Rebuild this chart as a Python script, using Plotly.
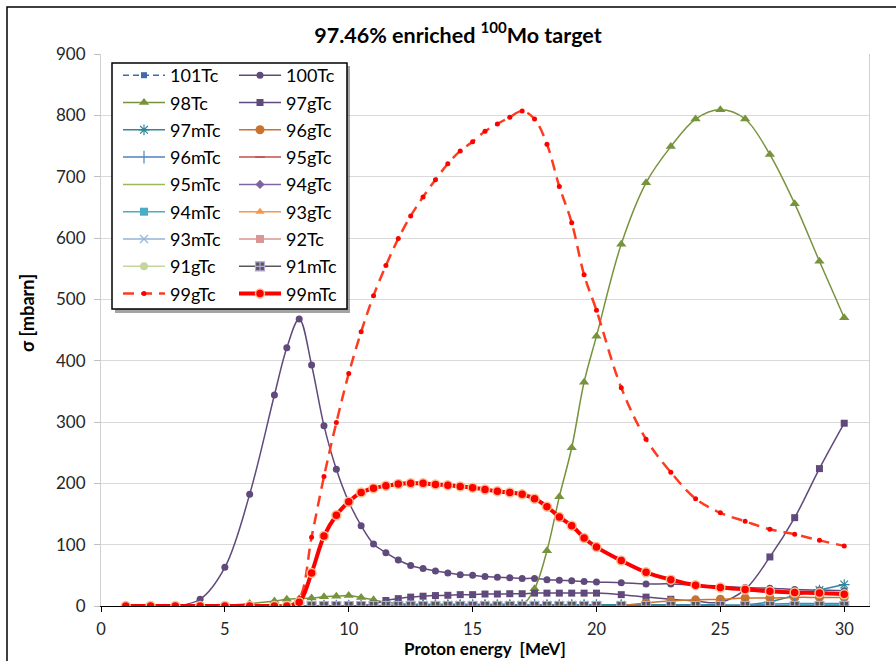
import plotly.graph_objects as go

# ---------------- data ----------------
E_FULL = [1, 2, 3, 4, 5, 6, 7, 7.5, 8, 8.5, 9, 9.5, 10, 10.5, 11, 11.5, 12, 12.5, 13, 13.5,
          14, 14.5, 15, 15.5, 16, 16.5, 17, 17.5, 18, 18.5, 19, 19.5, 20,
          21, 22, 23, 24, 25, 26, 27, 28, 29, 30]
E_HIGH = [8, 8.5, 9, 9.5, 10, 10.5, 11, 11.5, 12, 12.5, 13, 13.5,
          14, 14.5, 15, 15.5, 16, 16.5, 17, 17.5, 18, 18.5, 19, 19.5, 20,
          21, 22, 23, 24, 25, 26, 27, 28, 29, 30]

tc100 = [0, 0, 0, 11, 63, 182, 344, 421, 468, 393, 294, 223, 170, 131, 101, 87, 75, 66, 61, 57,
         54, 51, 50, 48, 47, 46, 45, 45, 43, 42, 41, 40, 39,
         38, 36, 36, 34, 32, 30, 29, 27, 26, 25]
tc98 = [0, 0, 0, 0, 1, 4, 8, 11, 12, 13, 15, 16, 17, 14, 10, 6, 4, 3, 3, 3,
        3, 3, 3, 3, 3, 3, 2, 28, 90, 178, 258, 365, 440,
        590, 690, 749, 794, 809, 794, 736, 656, 562, 470]
tc99g = [0, 0, 0, 0, 0, 0, 0, 0, 12, 112, 211, 299, 379, 447, 506, 555, 599, 636, 667, 695,
         721, 742, 757, 774, 786, 797, 807, 794, 753, 684, 625, 540, 482,
         356, 272, 218, 175, 152, 138, 125, 117, 107, 98]
tc99m = [0, 0, 0, 0, 0, 0, 0, 0, 6, 54, 114, 148, 170, 185, 192, 196, 199, 200, 200, 198,
         197, 195, 193, 190, 187, 185, 182, 175, 162, 145, 131, 111, 96,
         74, 55, 43, 34, 30, 27, 24, 22, 21, 19]

tc97g = [0, 0, 0, 0, 0, 1, 3, 9, 12, 14.5, 16, 17, 17.5, 18.5, 18.5, 19.5, 19.5, 20, 20, 21,
         21, 21, 21, 21, 21, 18.5, 14.5, 11, 8, 6, 27, 80, 144, 224, 298]
tc97m = [0, 0, 0, 0, 0, 0, 0, 1, 2, 2, 2, 2, 2, 2, 2, 2, 2, 2, 2, 2,
         2, 2, 2, 2, 2, 2, 2, 2, 2, 2, 2, 7, 17, 26, 35]
tc96g = [0, 0, 0, 0, 0, 0, 0, 0, 0, 0, 0, 0, 0, 0, 0, 0, 0, 0, 0, 0,
         0, 0, 0, 0, 0, 1, 5, 8, 10, 11, 13, 13, 14, 14, 14]
tc96m = [0, 0, 0, 0, 0, 0, 0, 0, 0, 0, 0, 0, 0, 0, 0, 0, 0, 0, 0, 0,
         0, 0, 0, 0, 0, 0, 0, 0, 0, 0, 1, 3, 4, 4, 4]
zeros = [0] * 35
tc101 = zeros
tc95g = zeros
tc95m = zeros
tc94g = zeros
tc94m = [0, 0, 0, 0, 0, 0, 0, 0, 0, 0, 0, 0, 0, 0, 0, 0, 0, 0, 0, 0,
         0, 0, 0, 0, 0, 0, 0, 0, 0, 0, 0, 1, 2, 2, 2]
tc93g = zeros
tc93m = zeros
tc92 = zeros
tc91g = zeros
tc91m = zeros

FONT = "Lato"
fig = go.Figure()

def add(name, x, y, color, width=1.5, dash="solid", symbol="circle", msize=6,
        mline=None, mlinew=0, mode="lines+markers", legend="legend", fill=None):
    fig.add_trace(go.Scatter(
        x=x, y=y, name=name, mode=mode, legend=legend, legendgroup=name,
        line=dict(color=color, width=width, dash=dash, shape="spline", smoothing=1.0),
        marker=dict(symbol=symbol, size=msize, color=fill or color,
                    line=dict(color=mline or color, width=mlinew)),
        hoverinfo="x+y+name"))

# draw order follows Excel series order (first = bottom)
add("101Tc", E_HIGH, tc101, "#3F6BAA", width=1.5, dash="6px,4px", symbol="square", msize=6)
add("100Tc", E_FULL, tc100, "#604A7B", width=1.5, symbol="circle", msize=7, legend="legend2")
add("98Tc", E_FULL, tc98, "#77933C", width=1.5, symbol="triangle-up", msize=9)
add("97gTc", E_HIGH, tc97g, "#604A7B", width=1.5, symbol="square", msize=7, legend="legend2")
add("97mTc", E_HIGH, tc97m, "#31859C", width=1.5, symbol="asterisk-open", msize=9, mlinew=1.2)
add("96gTc", E_HIGH, tc96g, "#C9732E", width=1.5, symbol="circle", msize=9, legend="legend2")
add("96mTc", E_HIGH, tc96m, "#4F81BD", width=1.5, symbol="line-ns-open", msize=9, mlinew=1.2)
add("95gTc", E_HIGH, tc95g, "#C0504D", width=1.5, symbol="line-ew-open", msize=7, mlinew=1.5, legend="legend2")
add("95mTc", E_HIGH, tc95m, "#9BBB59", width=1.5, mode="lines")
add("94gTc", E_HIGH, tc94g, "#8064A2", width=1.5, symbol="diamond", msize=7, legend="legend2")
add("94mTc", E_HIGH, tc94m, "#4BACC6", width=1.5, symbol="square", msize=8)
add("93gTc", E_HIGH, tc93g, "#F79646", width=1.5, symbol="triangle-up", msize=8, legend="legend2")
add("93mTc", E_HIGH, tc93m, "#95B3D7", width=1.5, symbol="x-thin-open", msize=8, mlinew=1.2)
add("92Tc", E_HIGH, tc92, "#D99694", width=1.5, symbol="square", msize=8, legend="legend2")
add("91gTc", E_HIGH, tc91g, "#C3D69B", width=1.5, symbol="circle", msize=8)
add("91mTc", E_HIGH, tc91m, "#595959", width=1.5, symbol="square-cross", msize=9,
    mline="#B4A7D6", mlinew=1.2, legend="legend2")
add("99gTc", E_FULL, tc99g, "#FF3B1F", width=2.5, dash="11px,7px", symbol="circle", msize=5,
    fill="#FF0000")
add("99mTc", E_FULL, tc99m, "#FF0000", width=4, symbol="circle", msize=9,
    fill="#FF0000", mline="#FABF8F", mlinew=1.5, legend="legend2")

W, H = 896, 661
L, R, T, B = 101, 27, 54, 55
PW, PH = W - L - R, H - T - B

def px(x):
    return (x - L) / PW

def py(y):
    return (H - B - y) / PH

shapes = [
    # outer chart border (only left/top visible in crop)
    dict(type="rect", xref="paper", yref="paper", x0=px(7), x1=px(905), y0=py(670), y1=py(7),
         line=dict(color="#000000", width=1.5), fillcolor="rgba(0,0,0,0)", layer="above"),
    # legend shadow
    dict(type="rect", xref="paper", yref="paper", x0=px(115), x1=px(350), y0=py(313), y1=py(66),
         line=dict(width=0), fillcolor="rgba(90,90,90,0.55)", layer="above"),
    # legend box
    dict(type="rect", xref="paper", yref="paper", x0=px(112), x1=px(347), y0=py(309), y1=py(63),
         line=dict(color="#000000", width=1.5), fillcolor="#FFFFFF", layer="above"),
]

legend_common = dict(
    bgcolor="rgba(0,0,0,0)", borderwidth=0, font=dict(family=FONT, size=18, color="#000000"),
    orientation="v", xanchor="left", yanchor="top", itemwidth=42,
    tracegroupgap=0.9, itemclick=False, itemdoubleclick=False,
)

fig.update_layout(
    width=W, height=H,
    margin=dict(l=L, r=R, t=T, b=B),
    paper_bgcolor="#FFFFFF", plot_bgcolor="#FFFFFF",
    font=dict(family=FONT, size=17, color="#262626"),
    title=dict(text="<b>97.46% enriched <sup>100</sup>Mo target</b>",
               x=458 / W, xanchor="center", xref="container",
               y=1 - 35 / H, yanchor="middle", yref="container",
               font=dict(family=FONT, size=21.5, color="#000000")),
    xaxis=dict(range=[0, 31], tickmode="array", tickvals=[0, 5, 10, 15, 20, 25, 30],
               showgrid=False, zeroline=False, showline=True, linecolor="#000000", linewidth=1,
               ticks="outside", ticklen=5, tickcolor="#000000", ticklabelstandoff=3,
               tickfont=dict(family=FONT, size=16.5, color="#262626")),
    yaxis=dict(range=[0, 900], tickmode="array", tickvals=list(range(0, 901, 100)),
               showgrid=True, gridcolor="#D9D9D9", gridwidth=1, zeroline=False,
               showline=True, linecolor="#D0D0D0", linewidth=1, mirror=True,
               ticks="outside", ticklen=6, tickcolor="#BFBFBF", ticklabelstandoff=5,
               tickfont=dict(family=FONT, size=17, color="#262626")),
    legend=dict(x=px(118), y=py(57), **legend_common),
    legend2=dict(x=px(234), y=py(57), **legend_common),
    shapes=shapes,
    annotations=[
        dict(text="<b>Proton energy  [MeV]</b>", xref="paper", yref="paper",
             x=px(485), y=py(661), xanchor="center", yanchor="bottom", showarrow=False,
             font=dict(family=FONT, size=17, color="#000000")),
        dict(text="<b>σ [mbarn]</b>", xref="paper", yref="paper", textangle=-90,
             x=px(27), y=py(313), xanchor="center", yanchor="middle", showarrow=False,
             font=dict(family=FONT, size=18, color="#000000")),
    ],
    showlegend=True,
)

fig.write_html("out.html")
